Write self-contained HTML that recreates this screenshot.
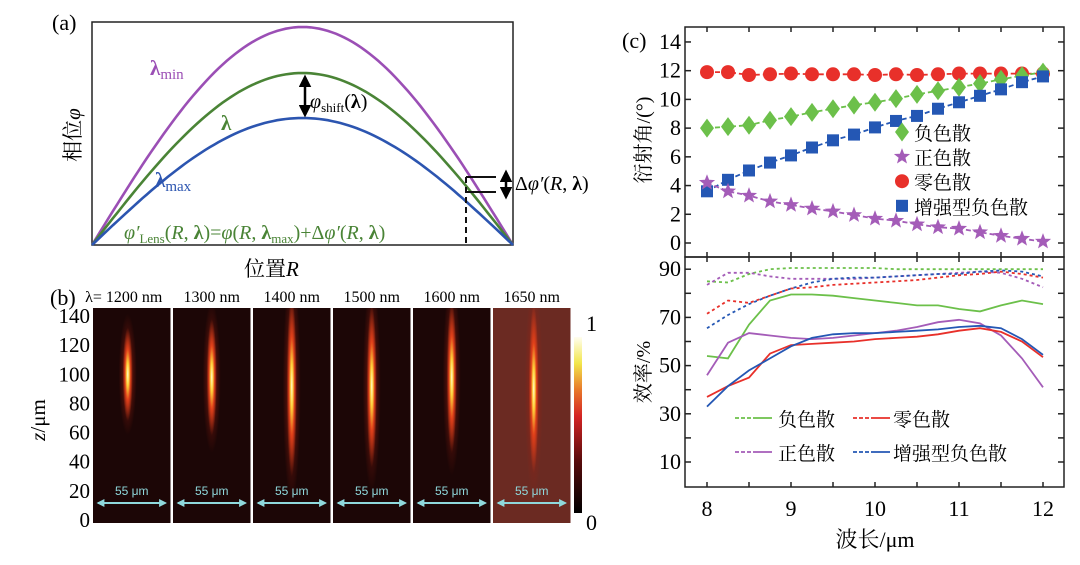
<!DOCTYPE html>
<html><head><meta charset="utf-8">
<style>
html,body{margin:0;padding:0;background:#fff;}
svg{display:block;font-family:"Liberation Serif","Noto Serif CJK SC",serif;}
</style></head>
<body>
<svg id="fig" width="1080" height="565" viewBox="0 0 1080 565" xmlns="http://www.w3.org/2000/svg">
<defs>
<radialGradient id="streak" cx="0.5" cy="0.5" r="0.5">
<stop offset="0" stop-color="#fffbd0"/><stop offset="0.25" stop-color="#ffd23a"/><stop offset="0.55" stop-color="#e0401a"/><stop offset="1" stop-color="#e0401a" stop-opacity="0"/>
</radialGradient>
<radialGradient id="glow" cx="0.5" cy="0.5" r="0.5">
<stop offset="0" stop-color="#a02010" stop-opacity="0.8"/><stop offset="1" stop-color="#a02010" stop-opacity="0"/>
</radialGradient>
<linearGradient id="cbar" x1="0" y1="1" x2="0" y2="0">
<stop offset="0" stop-color="#000"/><stop offset="0.3" stop-color="#5a0c0c"/><stop offset="0.55" stop-color="#d42424"/><stop offset="0.7" stop-color="#e8782a"/><stop offset="0.85" stop-color="#f2e64a"/><stop offset="1" stop-color="#fffef0"/>
</linearGradient>
<marker id="ah" viewBox="0 0 10 10" refX="8" refY="5" markerWidth="5" markerHeight="5" orient="auto-start-reverse"><path d="M0,0L10,5L0,10z" fill="#000"/></marker>
<marker id="ahc" viewBox="0 0 10 10" refX="8" refY="5" markerWidth="4" markerHeight="4" orient="auto-start-reverse"><path d="M0,0L10,5L0,10z" fill="#8fd8dc"/></marker>
</defs>

<!-- Panel (a) -->
<g>
<text x="52" y="30" font-size="22">(a)</text>
<rect x="92" y="22" width="421" height="223" fill="none" stroke="#222" stroke-width="1.5"/>
<g id="acurves"></g>
<line x1="466" y1="177" x2="466" y2="245" stroke="#111" stroke-width="2" stroke-dasharray="6,4"/>
<line x1="466" y1="177" x2="496" y2="177" stroke="#111" stroke-width="2"/>
<line x1="466" y1="192" x2="496" y2="192" stroke="#111" stroke-width="2"/>
<line x1="506" y1="172" x2="506" y2="197" stroke="#000" stroke-width="2.5" marker-start="url(#ah)" marker-end="url(#ah)"/>
<text x="515" y="190" font-size="20">Δ<tspan font-style="italic">φ′</tspan>(<tspan font-style="italic">R</tspan>, <tspan font-weight="bold">λ</tspan>)</text>
<line x1="305" y1="77" x2="305" y2="115" stroke="#000" stroke-width="2.5" marker-start="url(#ah)" marker-end="url(#ah)"/>
<text x="310" y="108" font-size="20"><tspan font-style="italic">φ</tspan><tspan font-size="13" dy="4">shift</tspan><tspan dy="-4">(</tspan><tspan font-weight="bold">λ</tspan>)</text>
<text x="150" y="75" font-size="21" fill="#9b4fb5"><tspan font-weight="bold">λ</tspan><tspan font-size="15" dy="4">min</tspan></text>
<text x="221" y="130" font-size="21" fill="#4a8436" font-weight="bold">λ</text>
<text x="155" y="187" font-size="21" fill="#2c55b0"><tspan font-weight="bold">λ</tspan><tspan font-size="15" dy="4">max</tspan></text>
<text x="124" y="239" font-size="20" fill="#4a8436"><tspan font-style="italic">φ′</tspan><tspan font-size="13" dy="4">Lens</tspan><tspan dy="-4">(</tspan><tspan font-style="italic">R</tspan>, <tspan font-weight="bold">λ</tspan>)=<tspan font-style="italic">φ</tspan>(<tspan font-style="italic">R</tspan>, <tspan font-weight="bold">λ</tspan><tspan font-size="13" dy="4">max</tspan><tspan dy="-4">)+Δ</tspan><tspan font-style="italic">φ′</tspan>(<tspan font-style="italic">R</tspan>, <tspan font-weight="bold">λ</tspan>)</text>
<text x="244" y="276" font-size="21">位置<tspan font-style="italic">R</tspan></text>
<text transform="translate(80,135) rotate(-90)" font-size="21" text-anchor="middle">相位<tspan font-style="italic">φ</tspan></text>
</g>

<!-- Panel (b) -->
<g>
<text x="50" y="305" font-size="22">(b)</text>
<g id="bpanels"></g>
<rect x="574" y="337" width="8" height="176" fill="url(#cbar)"/>
<text x="586" y="331" font-size="22">1</text>
<text x="586" y="530" font-size="22">0</text>
<g id="bticks" font-size="21" text-anchor="end"></g>
<text transform="translate(45,420) rotate(-90)" font-size="21" text-anchor="middle"><tspan font-style="italic">z</tspan>/μm</text>
</g>

<!-- Panel (c) -->
<g>
<text x="622" y="48" font-size="22">(c)</text>
<g id="ctop"></g>
<g id="cbot"></g>
<rect x="685" y="27" width="379" height="230" fill="none" stroke="#222" stroke-width="1.5"/>
<rect x="685" y="257" width="379" height="230" fill="none" stroke="#222" stroke-width="1.5"/>
<text transform="translate(650,140) rotate(-90)" font-size="20" text-anchor="middle">衍射角/(°)</text>
<text transform="translate(650,372) rotate(-90)" font-size="20" text-anchor="middle">效率/%</text>
<text x="875" y="547" font-size="22" text-anchor="middle">波长/μm</text>
</g>

<script>
// ---- Panel (a) data ----
const aCurveNames = ['lambda-min-curve','lambda-curve','lambda-max-curve'];
const aCurveHeights = [218, 172, 127];
const aCurveColors = ['#9b4fb5','#4a8436','#2c55b0'];

// ---- Panel (b) data ----
const bWavelengths = ['λ= 1200 nm','1300 nm','1400 nm','1500 nm','1600 nm','1650 nm'];
const bFocusCenterZ = [100, 98, 92, 92, 98, 90];
const bFocusLengthZ = [32, 40, 62, 56, 52, 58];
const bYTicks = [0,20,40,60,80,100,120,140];

// ---- Panel (c) data ----
const wavelengths = [8,8.25,8.5,8.75,9,9.25,9.5,9.75,10,10.25,10.5,10.75,11,11.25,11.5,11.75,12];
const angleNeg = [8.0,8.1,8.2,8.55,8.8,9.1,9.35,9.6,9.8,10.05,10.35,10.6,10.85,11.1,11.4,11.65,11.9];
const anglePos = [4.2,3.6,3.3,2.9,2.65,2.4,2.2,1.95,1.7,1.55,1.3,1.1,1.0,0.75,0.5,0.3,0.1];
const angleZero = [11.9,11.9,11.7,11.75,11.8,11.75,11.75,11.75,11.7,11.75,11.7,11.75,11.8,11.8,11.8,11.8,11.8];
const angleEnh = [3.6,4.4,5.05,5.6,6.1,6.65,7.15,7.55,8.05,8.5,8.85,9.35,9.8,10.25,10.7,11.2,11.6];
const effNegSolid = [54,53,67,77,79.5,79.5,79,78,77,76,75,75,73.5,72.5,75,77,75.5];
const effPosSolid = [46,59.5,63.5,62.5,61.5,61,61.5,62.5,63.5,64.5,66,68,69,67.5,62.5,53,41];
const effZeroSolid = [37,41.5,45,55,58.5,59,59.5,60,61,61.5,62,63,64.5,65.5,64,60,53.5];
const effEnhSolid = [33,41.5,48,53,58,61.5,63,63.5,63.5,64,64.5,65,66,66.5,65.5,61,54.5];
const effNegDot = [85,84.5,88,90,90.5,90.5,90.5,90.5,90.5,90,90,90,90,90,90,90,90];
const effPosDot = [83.5,88.5,88.5,87,86,86,86,86,86.5,87,87.5,88,88.5,89,88.5,86,82.5];
const effZeroDot = [71.5,77,76,79,82,82.5,83.5,84,84.5,85,85.5,86.5,87.5,88,89,88,86.5];
const effEnhDot = [65.5,71,75.5,79,82,84.5,86,86.5,86.5,87,87.5,88,88,89,89.5,89,87];
const xTickLabels = [8,9,10,11,12];
const topYTicks = [0,2,4,6,8,10,12,14];
const botYTicks = [10,20,30,40,50,60,70,80,90];
const botYLabels = [10,30,50,70,90];
const legendTop = ['负色散','正色散','零色散','增强型负色散'];
const legendBot = ['负色散','零色散','正色散','增强型负色散'];

const NS='http://www.w3.org/2000/svg';
function mk(tag, attrs, parent){const e=document.createElementNS(NS,tag);for(const k in attrs)e.setAttribute(k,attrs[k]);parent.appendChild(e);return e;}

// Panel a curves
const ag=document.getElementById('acurves');
const ax0=92, ax1=513, aBase=245;
aCurveHeights.forEach((h,i)=>{
  let d='';
  for(let k=0;k<=100;k++){const t=k/100;const x=ax0+t*(ax1-ax0);const y=aBase-h*Math.sin(Math.PI*t);d+=(k?'L':'M')+x.toFixed(1)+','+y.toFixed(1);}
  const p=mk('path',{d:d,fill:'none',stroke:aCurveColors[i],'stroke-width':2.6},ag);
  
  
});

// Panel b
const bg=document.getElementById('bpanels');
const defs=document.querySelector('defs');
const bx0=93, bw=77.5, bgap=2.5, by0=308, bh=215;
const zY=z=>520 - z*(204/140);
bWavelengths.forEach((lab,i)=>{
  const x=bx0+i*(bw+bgap);
  const cp=mk('clipPath',{id:'bclip'+i},defs);
  mk('rect',{x:x,y:by0,width:bw,height:bh},cp);
  const g=mk('g',{'clip-path':'url(#bclip'+i+')'},bg);
  
  
  mk('rect',{x:x,y:by0,width:bw,height:bh,fill:i===5?'#6b2a22':'#1c0606'},g);
  const cx=x+bw*0.5+(i===0?-4:(i===5?2:0));
  const cy=zY(bFocusCenterZ[i]);
  const ry=bFocusLengthZ[i]*(204/140);
  mk('ellipse',{cx:cx,cy:cy,rx:9,ry:ry*1.3,fill:'url(#glow)'},g);
  mk('ellipse',{cx:cx,cy:cy,rx:5,ry:ry,fill:'url(#streak)'},g);
  mk('line',{x1:x+5,y1:503,x2:x+bw-5,y2:503,stroke:'#8fd8dc','stroke-width':2,'marker-start':'url(#ahc)','marker-end':'url(#ahc)'},g);
  const t=mk('text',{x:x+bw/2,y:495,'font-size':12,fill:'#8fd8dc','text-anchor':'middle','font-family':'Liberation Sans, sans-serif'},g);
  t.textContent='55 μm';
  const h=mk('text',{x:x+bw/2+(i===0?-8:0),y:302,'font-size':16,'text-anchor':'middle'},bg);
  
  
  h.textContent=lab;
});
const bt=document.getElementById('bticks');
bYTicks.forEach(v=>{
  const t=mk('text',{x:90,y:zY(v)+7},bt);
  
  
  t.textContent=v;
});

// Panel c
const X=v=>707+(v-8)*84;
const YT=v=>243-v*14.36;
const YB=v=>462-(v-10)*2.41;
const ct=document.getElementById('ctop'), cb=document.getElementById('cbot');
[8,8.5,9,9.5,10,10.5,11,11.5,12].forEach(v=>{
  mk('line',{x1:X(v),y1:27,x2:X(v),y2:32,stroke:'#222','stroke-width':1.5},ct);
  mk('line',{x1:X(v),y1:257,x2:X(v),y2:262,stroke:'#222','stroke-width':1.5},cb);
  mk('line',{x1:X(v),y1:487,x2:X(v),y2:482,stroke:'#222','stroke-width':1.5},cb);
  mk('line',{x1:X(v),y1:257,x2:X(v),y2:252,stroke:'#222','stroke-width':1.5},ct);
});
xTickLabels.forEach(v=>{
  const t=mk('text',{x:X(v),y:516,'font-size':22,'text-anchor':'middle'},cb);
  
  
  t.textContent=v;
});
topYTicks.forEach(v=>{
  mk('line',{x1:685,y1:YT(v),x2:691,y2:YT(v),stroke:'#222','stroke-width':1.5},ct);
  mk('line',{x1:1064,y1:YT(v),x2:1058,y2:YT(v),stroke:'#222','stroke-width':1.5},ct);
  const t=mk('text',{x:681,y:YT(v)+7,'font-size':22,'text-anchor':'end'},ct);
  
  
  t.textContent=v;
});
botYTicks.forEach(v=>{
  mk('line',{x1:685,y1:YB(v),x2:691,y2:YB(v),stroke:'#222','stroke-width':1.5},cb);
  mk('line',{x1:1064,y1:YB(v),x2:1058,y2:YB(v),stroke:'#222','stroke-width':1.5},cb);
});
botYLabels.forEach(v=>{
  const t=mk('text',{x:681,y:YB(v)+7,'font-size':22,'text-anchor':'end'},cb);
  
  
  t.textContent=v;
});

const cols={neg:'#6cc04a',pos:'#a45cb8',zero:'#e8302a',enh:'#2457b4'};
function poly(arr,Y,col,dash,w,parent,name){
  const pts=wavelengths.map((w2,i)=>X(w2).toFixed(1)+','+Y(arr[i]).toFixed(1)).join(' ');
  const p=mk('polyline',{points:pts,fill:'none',stroke:col,'stroke-width':w},parent);
  if(dash)p.setAttribute('stroke-dasharray',dash);
  
  
}
function starPath(cx,cy,R){let d='';for(let k=0;k<10;k++){const r=k%2?R*0.42:R;const a=-Math.PI/2+k*Math.PI/5;d+=(k?'L':'M')+(cx+r*Math.cos(a)).toFixed(1)+','+(cy+r*Math.sin(a)).toFixed(1);}return d+'z';}
function marker(type,cx,cy,parent){
  if(type==='neg')return mk('path',{d:`M${cx},${cy-9.5}L${cx+7},${cy}L${cx},${cy+9.5}L${cx-7},${cy}z`,fill:cols.neg},parent);
  if(type==='pos')return mk('path',{d:starPath(cx,cy,8.5),fill:cols.pos},parent);
  if(type==='zero')return mk('circle',{cx:cx,cy:cy,r:7,fill:cols.zero},parent);
  return mk('rect',{x:cx-6,y:cy-6,width:12,height:12,fill:cols.enh},parent);
}
[['zero',angleZero],['neg',angleNeg],['enh',angleEnh],['pos',anglePos]].forEach(([k,arr])=>{
  poly(arr,YT,cols[k],'5,3',1.8,ct,'angle-line-'+k);
  arr.forEach((v,i)=>{
    const m=marker(k,X(wavelengths[i]),YT(v),ct);
    
    
  });
});
['neg','pos','zero','enh'].forEach((k,i)=>{
  const y=132+i*24.6;
  const m=marker(k,902,y,ct);
  
  
  const t=mk('text',{x:914,y:y+8,'font-size':19},ct);
  
  
  t.textContent=legendTop[i];
});
[['neg',effNegDot],['pos',effPosDot],['zero',effZeroDot],['enh',effEnhDot]].forEach(([k,arr])=>poly(arr,YB,cols[k],'3,3',1.8,cb,'efficiency-dotted-'+k));
[['neg',effNegSolid],['pos',effPosSolid],['zero',effZeroSolid],['enh',effEnhSolid]].forEach(([k,arr])=>poly(arr,YB,cols[k],null,1.8,cb,'efficiency-solid-'+k));
[['neg',735,418,778],['zero',853,418,893],['pos',735,452,778],['enh',853,452,893]].forEach(([k,x,y,tx],i)=>{
  const g=mk('g',{},cb);
  
  
  mk('line',{x1:x,y1:y,x2:x+18,y2:y,stroke:cols[k],'stroke-width':1.8,'stroke-dasharray':'4,2'},g);
  mk('line',{x1:x+18,y1:y,x2:x+37,y2:y,stroke:cols[k],'stroke-width':1.8},g);
  const t=mk('text',{x:tx,y:y+8,'font-size':19},g);
  t.textContent=legendBot[i];
});
</script>
</svg>
</body></html>
